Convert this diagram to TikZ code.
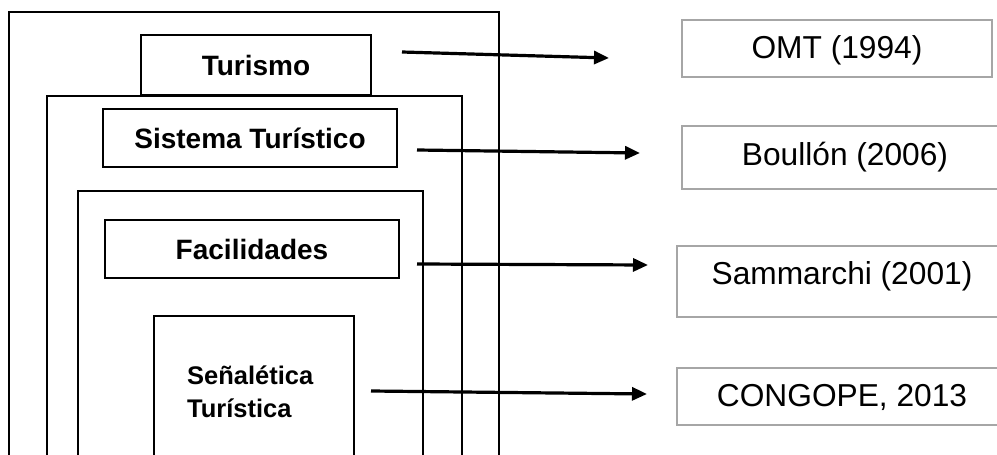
\documentclass[tikz,border=0pt]{standalone}
\usepackage{fontspec}
\setmainfont{Liberation Sans}
\usetikzlibrary{arrows.meta}
\begin{document}
\begin{tikzpicture}[x=1pt,y=-1pt,
 frame/.style={line width=2pt},
 lbox/.style={draw, line width=2pt, fill=white, inner sep=0pt, font=\fontsize{28}{33}\selectfont\bfseries},
 rbox/.style={draw=black!35, line width=2pt, fill=white, inner sep=0pt},
 rtext/.style={inner sep=0pt, font=\fontsize{31.7}{36}\selectfont},
 arr/.style={line width=3.2pt, -{Triangle[length=15pt,width=13pt]}}]
\useasboundingbox (0,0) rectangle (997,455);
\clip (0,0) rectangle (997,455);
\fill[white] (0,0) rectangle (997,455);
% nested frames and boxes
\draw[frame] (9,470) -- (9,12) -- (499,12) -- (499,470);
\node[lbox, minimum width=230, minimum height=60] (tur) at (256,65) {Turismo};
\draw[frame, fill=white] (47,470) -- (47,96) -- (462,96) -- (462,470);
\node[lbox, minimum width=294, minimum height=58] (sis) at (250,138) {Sistema Turístico};
\draw[frame, fill=white] (78,470) -- (78,191) -- (423,191) -- (423,470);
\node[lbox, minimum width=294, minimum height=58] (fac) at (252,249) {Facilidades};
\draw[frame, fill=white] (154,470) -- (154,316) -- (354,316) -- (354,470);
\node[inner sep=0pt, anchor=west, align=left, font=\fontsize{25.5}{33}\selectfont\bfseries] (sen) at (187,392) {Señalética\\Turística};
% right boxes
\node[rbox, minimum width=310, minimum height=57] (b1) at (837,48.5) {};
\node[rtext] (t1) at (837,50) {OMT (1994)};
\node[rbox, minimum width=330, minimum height=63] (b2) at (847,157.5) {};
\node[rtext] (t2) at (845,157) {Boullón (2006)};
\node[rbox, minimum width=340, minimum height=71] (b3) at (847,281.5) {};
\node[rtext] (t3) at (842,276) {Sammarchi (2001)};
\node[rbox, minimum width=340, minimum height=57] (b4) at (847,396.5) {};
\node[rtext] (t4) at (842,397) {CONGOPE, 2013};
% arrows
\coordinate (s1) at (402,52);
\coordinate (e1) at (609,58);
\coordinate (s2) at (417,150);
\coordinate (e2) at (640,153);
\coordinate (s3) at (417,264);
\coordinate (e3) at (648,265);
\coordinate (s4) at (371,391);
\coordinate (e4) at (647,394);
\draw[arr] (s1) -- (e1);
\draw[arr] (s2) -- (e2);
\draw[arr] (s3) -- (e3);
\draw[arr] (s4) -- (e4);
\end{tikzpicture}
\end{document}
